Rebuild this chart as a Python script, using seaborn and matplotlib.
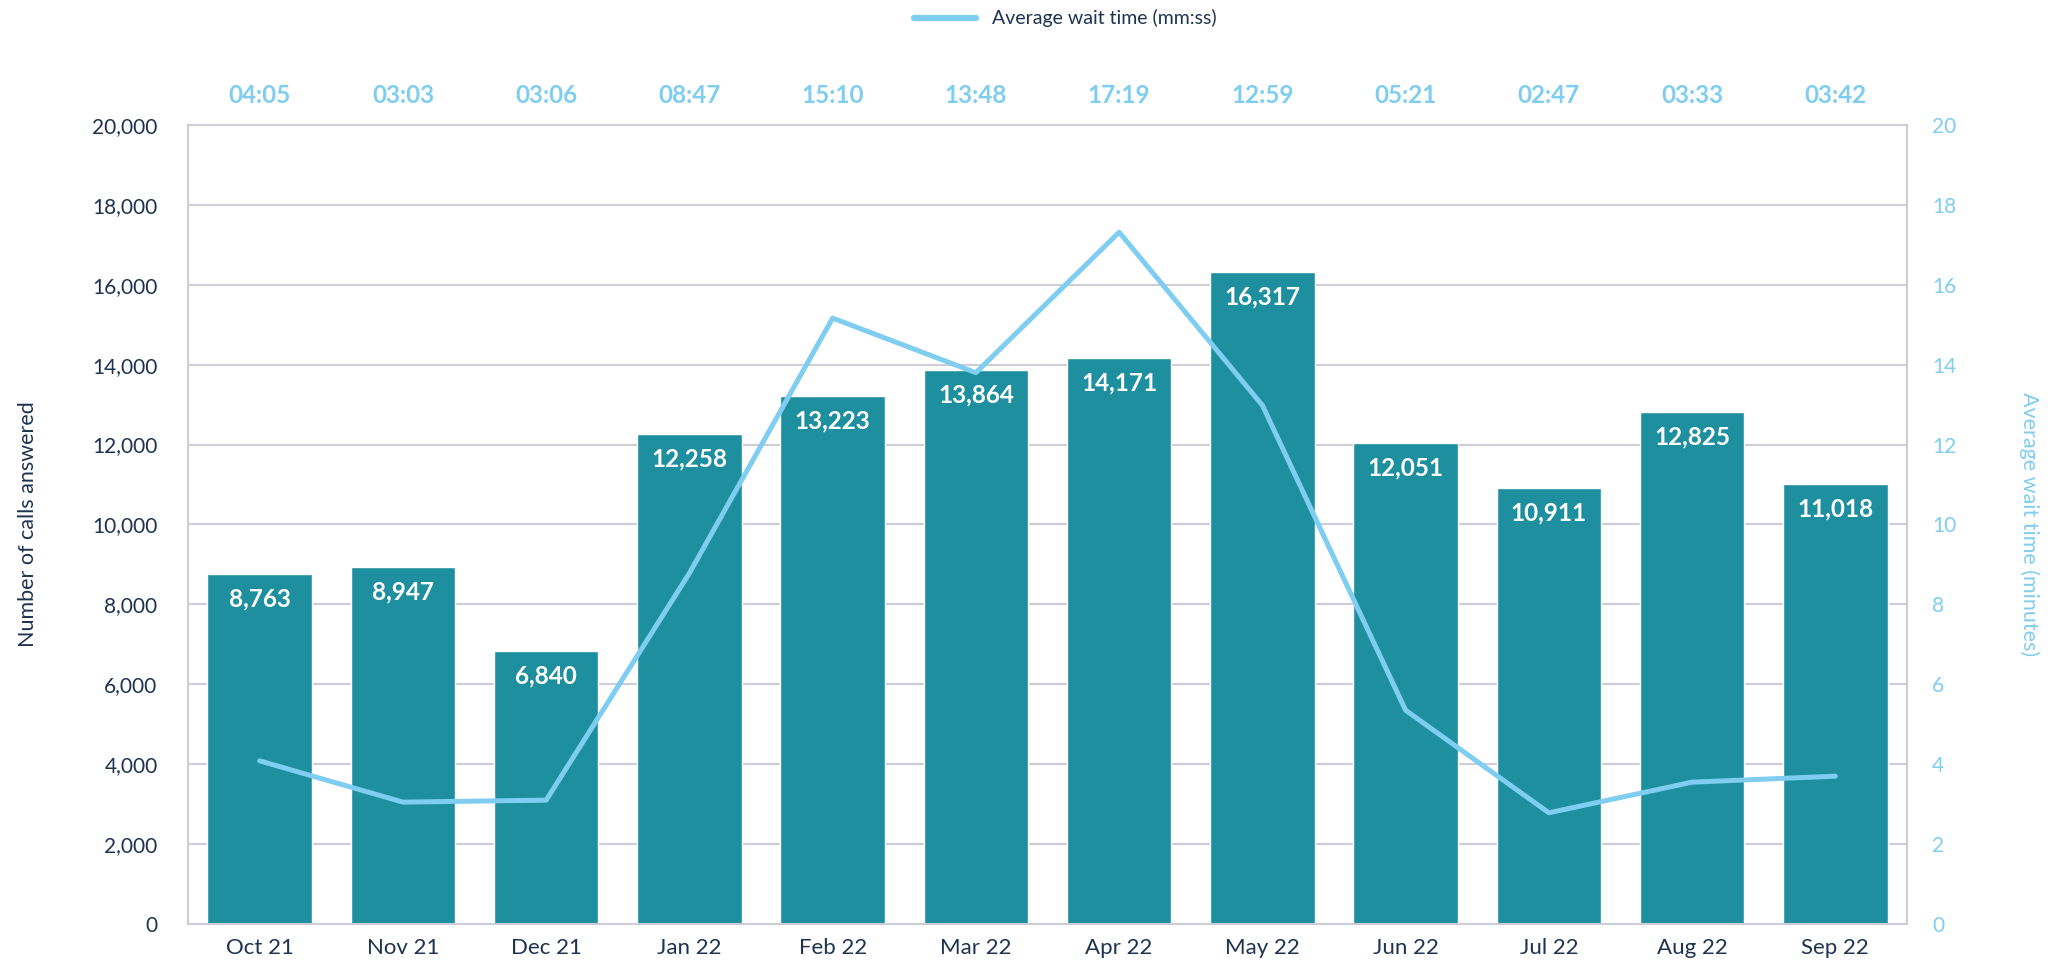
import numpy as np
import pandas as pd
import matplotlib
matplotlib.use("Agg")
import matplotlib.pyplot as plt
import matplotlib.transforms as mtransforms
from matplotlib.lines import Line2D
import seaborn as sns

# ── Data ────────────────────────────────────────────────
months = ["Oct 21", "Nov 21", "Dec 21", "Jan 22", "Feb 22", "Mar 22",
          "Apr 22", "May 22", "Jun 22", "Jul 22", "Aug 22", "Sep 22"]
calls = [8763, 8947, 6840, 12258, 13223, 13864, 14171, 16317, 12051, 10911, 12825, 11018]
wait_labels = ["04:05", "03:03", "03:06", "08:47", "15:10", "13:48",
               "17:19", "12:59", "05:21", "02:47", "03:33", "03:42"]
left_ticks = [0, 2000, 4000, 6000, 8000, 10000, 12000, 14000, 16000, 18000, 20000]
right_ticks = [0, 2, 4, 6, 8, 10, 12, 14, 16, 18, 20]

wait_min = [int(s.split(":")[0]) + int(s.split(":")[1]) / 60 for s in wait_labels]
df = pd.DataFrame({"month": months, "calls": calls, "wait": wait_min})

# ── Style ───────────────────────────────────────────────
sns.set_theme(style="white")
plt.rcParams["font.family"] = ["Lato", "DejaVu Sans"]
TEAL = "#1e8f9e"
SKY = "#7fcdf0"
NAVY = "#1d3350"
GRID = "#cdcdd5"

fig, ax = plt.subplots(figsize=(20.58, 9.66), dpi=100)
fig.subplots_adjust(left=0.0914, right=0.9266, top=0.8706, bottom=0.0435)

sns.barplot(data=df, x="month", y="calls", color=TEAL, saturation=1,
            width=0.73, ax=ax, zorder=2)
ax.set_ylim(0, 20000)
ax.set_xlim(-0.5, 11.5)
ax.set_yticks(left_ticks)
ax.set_yticklabels([f"{v:,}" for v in left_ticks])
ax.yaxis.grid(True, color=GRID, linewidth=1.5, zorder=0)
ax.set_axisbelow(True)
ax.set_xlabel("")
ax.set_ylabel("Number of calls answered", fontsize=15.5, color=NAVY, labelpad=39)
ax.tick_params(axis="y", length=0, pad=22, labelsize=15, labelcolor=NAVY)
ax.tick_params(axis="x", length=0, pad=10, labelsize=16, labelcolor=NAVY)
for s in ax.spines.values():
    s.set_color(GRID)
    s.set_linewidth(1.5)

# value labels inside the bars
for i, v in enumerate(calls):
    ax.annotate(f"{v:,}", (i, v), xytext=(0, -18), textcoords="offset points",
                ha="center", va="center", color="white", fontsize=17.5,
                fontweight="bold", zorder=4)

# wait time labels above the plot
trans = mtransforms.blended_transform_factory(ax.transData, ax.transAxes)
for i, lab in enumerate(wait_labels):
    ax.text(i, 1.0375, lab, transform=trans, ha="center", va="center",
            color=SKY, fontsize=17.5, fontweight="bold")

# ── Wait time line ──────────────────────────────────────
ax2 = ax.twinx()
sns.lineplot(data=df, x="month", y="wait", color=SKY, linewidth=3.6,
             ax=ax2, sort=False, zorder=3)
ax2.set_ylim(0, 20)
ax2.set_xlim(-0.5, 11.5)
ax2.set_yticks(right_ticks)
ax2.tick_params(axis="y", length=0, pad=18, labelsize=15, labelcolor=SKY)
ax2.set_ylabel("Average wait time (minutes)", fontsize=15.5, color=SKY,
               rotation=270, labelpad=60)
ax2.set_xlabel("")
ax2.grid(False)
for s in ax2.spines.values():
    s.set_visible(False)

handle = Line2D([0], [0], color=SKY, linewidth=4.5)
fig.legend([handle], ["Average wait time (mm:ss)"], loc="center",
           bbox_to_anchor=(0.5175, 0.981), frameon=False, fontsize=14,
           handlelength=3.2, labelcolor=NAVY)

plt.savefig("out.png", dpi=100, facecolor="white")
plt.close()
